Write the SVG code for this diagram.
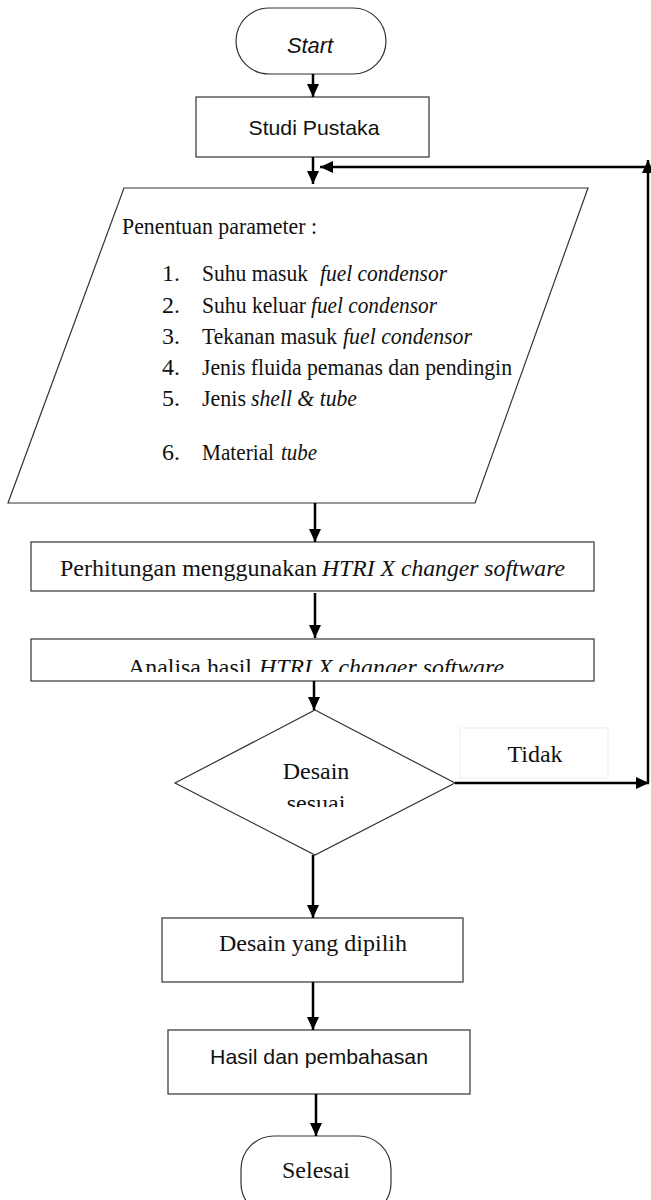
<svg xmlns="http://www.w3.org/2000/svg" width="651" height="1200" viewBox="0 0 651 1200">
<style>
.box{fill:#fff;stroke:#333;stroke-width:1.2}
.serif{font-family:"Liberation Serif","Times New Roman",serif;fill:#111}
.sans{font-family:"Liberation Sans",Arial,sans-serif;fill:#111}
.conn{stroke:#000;stroke-width:2.5;fill:none}
.it{font-style:italic}
.li{font-size:24px}
</style>
<defs>
<marker id="ah" markerUnits="userSpaceOnUse" markerWidth="14" markerHeight="14" viewBox="0 0 14 14" refX="13" refY="7" orient="auto">
<path d="M0,1 L13,7 L0,13 z" fill="#000"/>
</marker>
<clipPath id="clipA"><rect x="0" y="600" width="651" height="72"/></clipPath>
<clipPath id="clipD"><rect x="0" y="790" width="651" height="17"/></clipPath>
</defs>
<rect width="651" height="1200" fill="#fff"/>
<g id="start">
<rect class="box" x="236" y="8" width="150" height="66" rx="33" ry="33"/>
<text class="sans it" x="310" y="53" font-size="22" text-anchor="middle" textLength="46" lengthAdjust="spacingAndGlyphs">Start</text>
</g>
<g id="studi">
<rect class="box" x="196" y="97" width="233" height="60"/>
<text class="sans" x="314" y="135" font-size="21" text-anchor="middle" textLength="131" lengthAdjust="spacingAndGlyphs">Studi Pustaka</text>
</g>
<g id="parameter">
<polygon class="box" points="124,188 588,188 475,503 8,503"/>
<text class="serif" x="122" y="234" font-size="23" textLength="195" lengthAdjust="spacingAndGlyphs">Penentuan parameter :</text>
<text class="serif li" x="162" y="281" textLength="18" lengthAdjust="spacingAndGlyphs">1.</text>
<text class="serif li" x="202" y="281" textLength="106" lengthAdjust="spacingAndGlyphs">Suhu masuk</text>
<text class="serif li it" x="320" y="281" textLength="127" lengthAdjust="spacingAndGlyphs">fuel condensor</text>
<text class="serif li" x="162" y="313" textLength="18" lengthAdjust="spacingAndGlyphs">2.</text>
<text class="serif li" x="202" y="313" textLength="104" lengthAdjust="spacingAndGlyphs">Suhu keluar</text>
<text class="serif li it" x="311" y="313" textLength="126" lengthAdjust="spacingAndGlyphs">fuel condensor</text>
<text class="serif li" x="162" y="344" textLength="18" lengthAdjust="spacingAndGlyphs">3.</text>
<text class="serif li" x="202" y="344" textLength="135" lengthAdjust="spacingAndGlyphs">Tekanan masuk</text>
<text class="serif li it" x="343" y="344" textLength="129" lengthAdjust="spacingAndGlyphs">fuel condensor</text>
<text class="serif li" x="162" y="375" textLength="18" lengthAdjust="spacingAndGlyphs">4.</text>
<text class="serif li" x="202" y="375" textLength="310" lengthAdjust="spacingAndGlyphs">Jenis fluida pemanas dan pendingin</text>
<text class="serif li" x="162" y="406" textLength="18" lengthAdjust="spacingAndGlyphs">5.</text>
<text class="serif li" x="202" y="406" textLength="44" lengthAdjust="spacingAndGlyphs">Jenis</text>
<text class="serif li it" x="251" y="406" textLength="106" lengthAdjust="spacingAndGlyphs">shell &amp; tube</text>
<text class="serif li" x="162" y="460" textLength="18" lengthAdjust="spacingAndGlyphs">6.</text>
<text class="serif li" x="202" y="460" textLength="72" lengthAdjust="spacingAndGlyphs">Material</text>
<text class="serif li it" x="281" y="460" textLength="36" lengthAdjust="spacingAndGlyphs">tube</text>
</g>
<g id="perhitungan">
<rect class="box" x="31" y="542" width="563" height="49"/>
<text class="serif" x="60" y="576" font-size="23" textLength="257" lengthAdjust="spacingAndGlyphs">Perhitungan menggunakan</text>
<text class="serif it" x="322" y="576" font-size="23" textLength="243" lengthAdjust="spacingAndGlyphs">HTRI X changer software</text>
</g>
<g id="analisa">
<rect class="box" x="31" y="639" width="563" height="42"/>
<g clip-path="url(#clipA)">
<text class="serif" x="128" y="675" font-size="23" textLength="124" lengthAdjust="spacingAndGlyphs">Analisa hasil</text>
<text class="serif it" x="259" y="675" font-size="23" textLength="245" lengthAdjust="spacingAndGlyphs">HTRI X changer software</text>
</g>
</g>
<g id="keputusan">
<polygon class="box" points="315,710 455,783 315,855 175,783"/>
<text class="serif" x="316" y="779" font-size="24" text-anchor="middle">Desain</text>
<text class="serif" x="316" y="811" font-size="24" text-anchor="middle" clip-path="url(#clipD)">sesuai</text>
</g>
<g id="tidak">
<rect x="460" y="728" width="148" height="50" fill="#fff" stroke="#ececec" stroke-width="1"/>
<text class="serif" x="535" y="762" font-size="24" text-anchor="middle">Tidak</text>
</g>
<g id="dipilih">
<rect class="box" x="162" y="918" width="301" height="64"/>
<text class="serif" x="313" y="951" font-size="24" text-anchor="middle">Desain yang dipilih</text>
</g>
<g id="hasil">
<rect class="box" x="168" y="1030" width="302" height="64"/>
<text class="sans" x="319" y="1064" font-size="21" text-anchor="middle" textLength="218" lengthAdjust="spacingAndGlyphs">Hasil dan pembahasan</text>
</g>
<g id="selesai">
<rect class="box" x="241" y="1136" width="150" height="80" rx="33" ry="33"/>
<text class="serif" x="316" y="1178" font-size="24" text-anchor="middle">Selesai</text>
</g>
<g id="connectors">
<line class="conn" x1="313" y1="74" x2="313" y2="97" marker-end="url(#ah)"/>
<line class="conn" x1="313" y1="157" x2="313" y2="184" marker-end="url(#ah)"/>
<line class="conn" x1="455" y1="783" x2="649" y2="783" marker-end="url(#ah)"/>
<line class="conn" x1="648" y1="783" x2="648" y2="160" marker-end="url(#ah)"/>
<line class="conn" x1="648" y1="167" x2="320" y2="167" marker-end="url(#ah)"/>
<line class="conn" x1="315" y1="503" x2="315" y2="542" marker-end="url(#ah)"/>
<line class="conn" x1="315" y1="593" x2="315" y2="638" marker-end="url(#ah)"/>
<line class="conn" x1="314" y1="681" x2="314" y2="710" marker-end="url(#ah)"/>
<line class="conn" x1="313" y1="855" x2="313" y2="918" marker-end="url(#ah)"/>
<line class="conn" x1="313" y1="982" x2="313" y2="1030" marker-end="url(#ah)"/>
<line class="conn" x1="316" y1="1094" x2="316" y2="1136" marker-end="url(#ah)"/>
</g>
</svg>
